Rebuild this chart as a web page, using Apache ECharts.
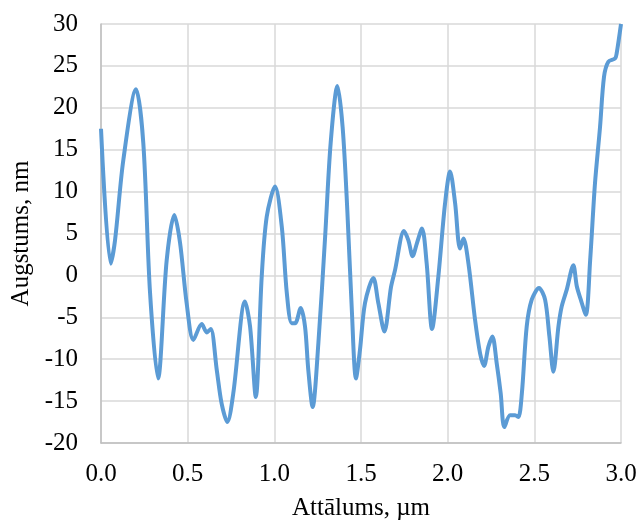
<!DOCTYPE html>
<html>
<head>
<meta charset="utf-8">
<script src="https://cdn.jsdelivr.net/npm/echarts@6/dist/echarts.min.js"></script>
<style>html,body{margin:0;padding:0;background:#fff}#c{width:640px;height:528px}</style>
</head>
<body>
<div id="c"></div>
<script>
const distance = [0.00,0.056,0.081,0.129,0.202,0.244,0.283,0.329,0.379,0.423,0.456,0.494,0.533,0.581,0.61,0.633,0.668,0.696,0.729,0.763,0.831,0.86,0.893,0.927,0.956,1.004,1.043,1.072,1.10,1.12,1.152,1.177,1.196,1.221,1.254,1.293,1.325,1.364,1.394,1.421,1.447,1.471,1.494,1.523,1.571,1.60,1.635,1.673,1.696,1.748,1.773,1.798,1.822,1.852,1.879,1.91,1.946,1.985,2.014,2.043,2.071,2.091,2.12,2.158,2.187,2.21,2.235,2.258,2.283,2.306,2.327,2.36,2.389,2.408,2.428,2.456,2.485,2.527,2.562,2.587,2.61,2.639,2.658,2.687,2.725,2.745,2.768,2.797,2.822,2.85,2.879,2.902,2.927,2.966,2.975,3.0];
const height = [17.5,1.4,4.2,13.8,22.2,15.8,-2.1,-12.3,1.8,7.2,3.9,-3.3,-7.7,-5.8,-6.8,-6.4,-11.3,-15.3,-17.5,-14.1,-3.1,-6.1,-14.5,-0.2,7.0,10.6,5.8,-2.1,-5.7,-5.7,-3.9,-6.1,-11.3,-15.7,-8.1,4.6,15.8,22.6,17.7,7.8,-4.1,-12.3,-8.9,-3.3,-0.3,-3.3,-6.7,-1.4,0.6,5.3,4.2,2.3,3.8,5.6,1.4,-6.4,-0.2,8.6,12.4,8.6,3.2,4.4,1.4,-5.3,-9.3,-10.8,-8.5,-7.3,-10.5,-14.1,-18.1,-16.7,-16.7,-16.9,-14.1,-6.1,-2.9,-1.5,-2.9,-7.3,-11.5,-6.1,-3.7,-1.7,1.2,-1.3,-2.9,-4.7,1.8,11.0,17.7,23.7,25.5,25.9,26.5,30.0];
const xTicks = {min:0, max:3, interval:0.5};
const yTicks = {min:-20, max:30, interval:5};
const xName = 'Attālums, µm';
const yName = 'Augstums, nm';

const font = "'Liberation Serif','Times New Roman',serif";
const chart = echarts.init(document.getElementById('c'), null, {renderer:'canvas'});
chart.setOption({
  animation:false,
  grid:{left:101,right:19,top:24,bottom:85},
  xAxis:{type:'value',min:xTicks.min,max:xTicks.max,interval:xTicks.interval,
    name:xName,nameLocation:'middle',nameGap:53,
    nameTextStyle:{fontFamily:font,fontSize:25,color:'#000'},
    axisLine:{show:true,onZero:false,lineStyle:{color:'#bfbfbf',width:1.5}},
    axisTick:{show:false},
    axisLabel:{fontFamily:font,fontSize:25,color:'#000',margin:19,formatter:v=>v.toFixed(1)},
    splitLine:{show:true,lineStyle:{color:'#d9d9d9',width:1.5}}},
  yAxis:{type:'value',min:yTicks.min,max:yTicks.max,interval:yTicks.interval,
    name:yName,nameLocation:'middle',nameGap:66,
    nameTextStyle:{fontFamily:font,fontSize:25,color:'#000'},
    axisLine:{show:true,onZero:false,lineStyle:{color:'#bfbfbf',width:1.5}},
    axisTick:{show:false},
    axisLabel:{fontFamily:font,fontSize:25,color:'#000',margin:23},
    splitLine:{show:true,lineStyle:{color:'#d9d9d9',width:1.5}}},
  series:[{type:'line',data:distance.map((d,i)=>[d,height[i]]),
    smooth:0.3,showSymbol:false,clip:true,
    lineStyle:{color:'#5b9bd5',width:4},itemStyle:{color:'#5b9bd5'}}]
});
</script>
</body>
</html>
